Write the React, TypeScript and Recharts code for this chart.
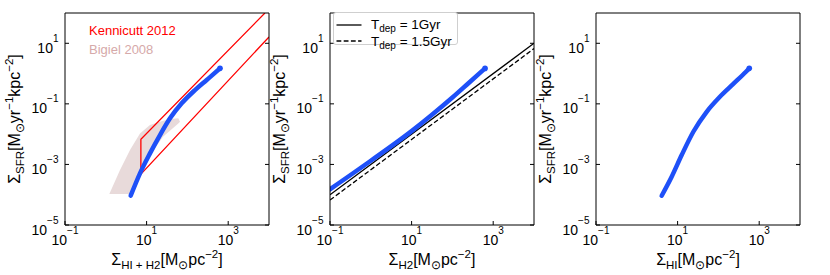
import React from 'react';
import { ComposedChart, Line, Area, XAxis, YAxis, Legend } from 'recharts';

// left panel: total gas (HI + H2)
const gasTotal = [4.07, 6.89, 12.1, 21.3, 37.5, 72.4, 153, 297, 571, 630];
const sfrTotal = [9.27e-5, 5.08e-4, 2.32e-3, 9.33e-3, 3.33e-2, 0.104, 0.285, 0.617, 1.32, 1.49];

// middle panel: H2 only
const gasH2 = [0.1, 1, 10, 31.6, 100, 251, 631];
const sfrH2 = [1.51e-4, 1.32e-3, 1.26e-2, 4.37e-2, 0.162, 0.49, 1.48];

// right panel: HI only
const gasHI = [4.07, 7.16, 12.6, 24.3, 51.6, 109, 232, 474, 571];
const sfrHI = [9.27e-5, 3.93e-4, 2.04e-3, 1.2e-2, 5.48e-2, 0.171, 0.455, 1.15, 1.49];

// Kennicutt 2012 outline (drawn in order)
const kennX = [7943, 7.24, 7.24, 10000];
const kennY = [100, 6.76e-3, 4.79e-4, 16.2];

// Bigiel 2008 band
const bigielX = [1.22, 2.23, 3.92, 4.65, 6.89, 12.1, 25.2, 39.8, 59.8, 65.9];
const bigielLo = [1.05e-4, 1.05e-4, 1.05e-4, 1.05e-4, 3.93e-4, 2.0e-3, 8.2e-3, 1.39e-2, 2.24e-2, 2.56e-2];
const bigielHi = [1.05e-4, 6.53e-4, 2.99e-3, 4.38e-3, 1.06e-2, 2.0e-2, 2.79e-2, 3.16e-2, 3.32e-2, 2.56e-2];

// depletion-time lines
const tdepX = [0.1, 10000];
const tdep1 = [1e-4, 10];
const tdep15 = [6.67e-5, 6.67];

const xTicks = [0.1, 10, 1000];
const yTicks = [1e-5, 1e-3, 0.1, 10];

const FONT = '"Liberation Sans", Arial, sans-serif';
const BLUE = '#1e50f8';

const pts = (xs: number[], ys: number[]) => xs.map((x, i) => ({ x, y: ys[i] }));
const bigielData = bigielX.map((x, i) => ({ x, band: [bigielLo[i], bigielHi[i]] }));

const exp = (v: number) => {
  const e = Math.round(Math.log10(v));
  return e < 0 ? '\u2212' + -e : String(e);
};

function BottomTick({ x, y, payload }: any) {
  return (
    <g>
      <line x1={x} y1={y} x2={x} y2={y - 4} stroke="#000" />
      <text x={x} y={y + 20} textAnchor="middle" fontSize={14} fontFamily={FONT} fill="#000">
        10<tspan fontSize={10} dy={-11}>{exp(payload.value)}</tspan>
      </text>
    </g>
  );
}

function LeftTick({ x, y, payload }: any) {
  return (
    <g>
      <line x1={x} y1={y} x2={x + 4} y2={y} stroke="#000" />
      <text x={x - 6.5} y={y + 9.5} textAnchor="end" fontSize={14} fontFamily={FONT} fill="#000">
        10<tspan fontSize={10} dy={-11}>{exp(payload.value)}</tspan>
      </text>
    </g>
  );
}

const TopTick = ({ x, y }: any) => <line x1={x} y1={y} x2={x} y2={y + 4} stroke="#000" />;
const RightTick = ({ x, y }: any) => <line x1={x} y1={y} x2={x - 4} y2={y} stroke="#000" />;

function XLabel({ viewBox, sub }: any) {
  const vb = viewBox || { x: 65, y: 225, width: 204, height: 50 };
  return (
    <text x={vb.x + vb.width / 2} y={vb.y + 40} textAnchor="middle" fontFamily={FONT} fontSize={16} fill="#000">
      Σ<tspan fontSize={11.5} dy={4}>{sub}</tspan>
      <tspan dy={-4}>[M</tspan>
      <tspan fontSize={11.5} dy={4}>⊙</tspan>
      <tspan dy={-4}>pc</tspan>
      <tspan fontSize={11.5} dy={-7}>−2</tspan>
      <tspan dy={7}>]</tspan>
    </text>
  );
}

function YLabel({ viewBox }: any) {
  const vb = viewBox || { x: 0, y: 13, width: 65, height: 212 };
  const bx = vb.x + vb.width - 45;
  const cy = vb.y + vb.height / 2;
  return (
    <text x={bx} y={cy} transform={`rotate(-90 ${bx} ${cy})`} textAnchor="middle" fontFamily={FONT} fontSize={16} fill="#000">
      Σ<tspan fontSize={11.5} dy={4}>SFR</tspan>
      <tspan dy={-4}>[M</tspan>
      <tspan fontSize={11.5} dy={4}>⊙</tspan>
      <tspan dy={-4}>yr</tspan>
      <tspan fontSize={11.5} dy={-7}>−1</tspan>
      <tspan dy={7}>kpc</tspan>
      <tspan fontSize={11.5} dy={-7}>−2</tspan>
      <tspan dy={7}>]</tspan>
    </text>
  );
}

function axes(sub: string) {
  const common = { type: 'number' as const, scale: 'log' as const, allowDataOverflow: true, interval: 0 as const, tickSize: 0, tickMargin: 0, tickLine: false, axisLine: { stroke: '#000' } };
  return [
    <XAxis key="xb" dataKey="x" {...common} domain={[0.1, 10000]} ticks={xTicks} height={50} tick={<BottomTick />} label={<XLabel sub={sub} />} />,
    <XAxis key="xt" xAxisId="top" orientation="top" {...common} domain={[0.1, 10000]} ticks={xTicks} height={1} tick={<TopTick />} />,
    <YAxis key="yl" {...common} domain={[1e-5, 100]} ticks={yTicks} width={65} tick={<LeftTick />} label={<YLabel />} />,
    <YAxis key="yr" yAxisId="right" orientation="right" {...common} domain={[1e-5, 100]} ticks={yTicks} width={1} tick={<RightTick />} />,
  ];
}

const blueLine = (data: { x: number; y: number }[]) => (
  <Line
    data={data}
    dataKey="y"
    stroke={BLUE}
    strokeWidth={4.5}
    strokeLinecap="round"
    type="monotone"
    isAnimationActive={false}
    dot={(p: any) =>
      p.index === data.length - 1 ? <circle key={p.index} cx={p.cx} cy={p.cy} r={2.8} fill={BLUE} /> : <g key={p.index} />
    }
    activeDot={false}
  />
);

const W = 270;
const H = 275;
const M = { top: 12, right: 0, bottom: 0, left: 0 };

export default function App() {
  return (
    <div style={{ position: 'absolute', left: 0, top: 0, width: 830, height: 275, background: '#fff' }}>
      <div style={{ position: 'absolute', left: 0, top: 0 }}>
        <ComposedChart width={W} height={H} margin={M} data={bigielData}>
          {axes('HI + H2')}
          <Area dataKey="band" type="linear" fill="#e8dada" fillOpacity={1} stroke="none" isAnimationActive={false} activeDot={false} />
          <Line data={pts(kennX, kennY)} dataKey="y" stroke="#ff0000" strokeWidth={1.3} dot={false} activeDot={false} isAnimationActive={false} />
          {blueLine(pts(gasTotal, sfrTotal))}
          <Legend
            layout="vertical"
            align="center"
            verticalAlign="middle"
            wrapperStyle={{ left: 89, top: 20.5, width: 'auto' }}
            content={() => (
              <div style={{ fontFamily: FONT, fontSize: 13, lineHeight: '19px', whiteSpace: 'nowrap' }}>
                <div style={{ color: '#ff0000' }}>Kennicutt 2012</div>
                <div style={{ color: '#d6a9a9' }}>Bigiel 2008</div>
              </div>
            )}
          />
        </ComposedChart>
      </div>

      <div style={{ position: 'absolute', left: 265, top: 0 }}>
        <ComposedChart width={W} height={H} margin={M}>
          {axes('H2')}
          <Line data={pts(tdepX, tdep1)} dataKey="y" stroke="#000" strokeWidth={1.3} dot={false} activeDot={false} isAnimationActive={false} />
          <Line data={pts(tdepX, tdep15)} dataKey="y" stroke="#000" strokeWidth={1.3} strokeDasharray="4.8 2.4" dot={false} activeDot={false} isAnimationActive={false} />
          {blueLine(pts(gasH2, sfrH2))}
          <Legend
            layout="vertical"
            align="center"
            verticalAlign="middle"
            wrapperStyle={{ left: 68, top: 12, width: 'auto' }}
            content={() => (
              <div style={{ position: 'relative', width: 125, height: 33, boxSizing: 'border-box', border: '1px solid #cfcfcf', borderRadius: 3, background: '#fff', fontFamily: FONT, fontSize: 13.5, color: '#000' }}>
                {[
                  { dash: undefined, label: '1Gyr', top: 3.5 },
                  { dash: '4.8 2.4', label: '1.5Gyr', top: 20 },
                ].map((r) => (
                  <div key={r.label} style={{ position: 'absolute', left: 0, top: r.top, height: 16, display: 'flex', alignItems: 'center', whiteSpace: 'nowrap' }}>
                    <svg width={30} height={16} style={{ display: 'block' }}>
                      <line x1={2.5} y1={8} x2={27.5} y2={8} stroke="#000" strokeWidth={1.3} strokeDasharray={r.dash} />
                    </svg>
                    <span style={{ marginLeft: 7 }}>
                      T<span style={{ fontSize: 10, position: 'relative', top: 3 }}>dep</span> = {r.label}
                    </span>
                  </div>
                ))}
              </div>
            )}
          />
        </ComposedChart>
      </div>

      <div style={{ position: 'absolute', left: 531, top: 0 }}>
        <ComposedChart width={W} height={H} margin={M}>
          {axes('HI')}
          {blueLine(pts(gasHI, sfrHI))}
        </ComposedChart>
      </div>
    </div>
  );
}
